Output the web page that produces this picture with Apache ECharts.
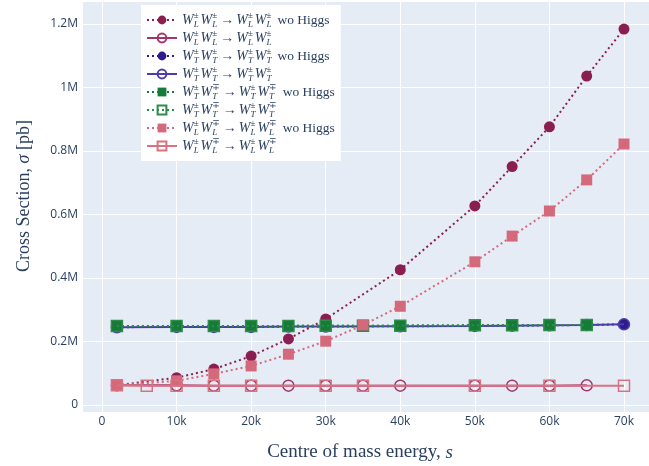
<!DOCTYPE html>
<html>
<head>
<meta charset="utf-8">
<script src="https://cdn.jsdelivr.net/npm/echarts@6/dist/echarts.min.js"></script>
<style>html,body{margin:0;padding:0;background:#fff}#c{width:649px;height:466px}</style>
</head>
<body>
<div id="c"></div>
<script>
// ---- data ----
const xTicks = [0, 10000, 20000, 30000, 40000, 50000, 60000, 70000];
const yTicks = [0, 200000, 400000, 600000, 800000, 1000000, 1200000];

const seriesNames = [
  'WL± WL± → WL± WL± wo Higgs',
  'WL± WL± → WL± WL±',
  'WT± WT± → WT± WT± wo Higgs',
  'WT± WT± → WT± WT±',
  'WT± WT∓ → WT± WT∓ wo Higgs',
  'WT± WT∓ → WT± WT∓',
  'WL± WL∓ → WL± WL∓ wo Higgs',
  'WL± WL∓ → WL± WL∓'
];
const polSub = ['L', 'L', 'T', 'T', 'T', 'T', 'L', 'L'];
const secondSign = ['±', '±', '±', '±', '∓', '∓', '∓', '∓'];
const woHiggs = [true, false, true, false, true, false, true, false];

const x_LL_wo = [2000, 10000, 15000, 20000, 25000, 30000, 40000, 50000, 55000, 60000, 65000, 70000];
const y_LL_wo = [62000, 86000, 113000, 154000, 208000, 271000, 426000, 627000, 751000, 876000, 1036000, 1184000];

const x_LL = [2000, 10000, 15000, 20000, 25000, 30000, 35000, 40000, 50000, 55000, 60000, 65000];
const y_LL = [62000, 62000, 61000, 61000, 61000, 61000, 61000, 61000, 61000, 61000, 61000, 62000];

const x_TT_wo = [2000, 10000, 15000, 20000, 25000, 30000, 40000, 50000, 55000, 60000, 65000, 70000];
const y_TT_wo = [245000, 246000, 246000, 246000, 247000, 247000, 248000, 249000, 250000, 251000, 252000, 254000];

const x_TT = [2000, 10000, 15000, 20000, 25000, 30000, 40000, 50000, 55000, 60000, 65000, 70000];
const y_TT = [245000, 246000, 246000, 246000, 247000, 247000, 248000, 249000, 250000, 251000, 252000, 254000];

const x_TTm_wo = [2000, 10000, 15000, 20000, 25000, 30000, 35000, 40000, 50000, 55000, 60000, 65000];
const y_TTm_wo = [249000, 249000, 249000, 249000, 249000, 250000, 250000, 250000, 251000, 251000, 252000, 252000];

const x_TTm = [2000, 10000, 15000, 20000, 25000, 30000, 35000, 40000, 50000, 55000, 60000, 65000];
const y_TTm = [249000, 249000, 249000, 249000, 249000, 250000, 250000, 250000, 251000, 251000, 252000, 252000];

const x_LLm_wo = [2000, 10000, 15000, 20000, 25000, 30000, 35000, 40000, 50000, 55000, 60000, 65000, 70000];
const y_LLm_wo = [62000, 76000, 98000, 123000, 160000, 201000, 252000, 311000, 451000, 532000, 611000, 709000, 822000];

const x_LLm = [2000, 6000, 10000, 15000, 20000, 30000, 35000, 50000, 60000, 70000];
const y_LLm = [62000, 61000, 61000, 61000, 61000, 61000, 61000, 61000, 61000, 61000];

// ---- styles ----
const seriesX = [x_LL_wo, x_LL, x_TT_wo, x_TT, x_TTm_wo, x_TTm, x_LLm_wo, x_LLm];
const seriesY = [y_LL_wo, y_LL, y_TT_wo, y_TT, y_TTm_wo, y_TTm, y_LLm_wo, y_LLm];
const colors = ['#8b1e51', '#a2346a', '#2f1c8c', '#4d3cab', '#167a38', '#2d8c48', '#d4697b', '#d9727f'];
const symbols = ['circle', 'circle', 'circle', 'circle', 'rect', 'rect', 'rect', 'rect'];
const filled = [true, false, true, false, true, false, true, false];
const dotted = [true, false, true, false, true, true, true, false];

const txtColor = '#2a3f5f';
const serif = "'Liberation Serif', 'DejaVu Serif', serif";

function richLabel(i) {
  const s = polSub[i];
  const particle = (sign) => '{w|W}{sub|' + s + '}{sup|' + sign + '}';
  let str = particle('±') + particle(secondSign[i]) + '{ar|→}' + particle('±') + particle(secondSign[i]);
  if (woHiggs[i]) str += '{t|wo Higgs}';
  return str;
}
const nameToIdx = {};
seriesNames.forEach((n, i) => nameToIdx[n] = i);

const series = seriesNames.map((name, i) => ({
  name: name,
  type: 'line',
  data: seriesX[i].map((x, k) => [x, seriesY[i][k]]),
  symbol: symbols[i],
  symbolSize: 11,
  showSymbol: true,
  lineStyle: { color: colors[i], width: 2, type: dotted[i] ? [2, 3] : 'solid' },
  itemStyle: filled[i]
    ? { color: colors[i], borderColor: colors[i], borderWidth: 0 }
    : { color: 'rgba(0,0,0,0)', borderColor: colors[i], borderWidth: 1.5 },
  emphasis: { disabled: true },
  animation: false,
  z: 2 + i
}));

const chart = echarts.init(document.getElementById('c'), null, { renderer: 'canvas' });
chart.setOption({
  animation: false,
  backgroundColor: '#ffffff',
  grid: {
    left: 83, right: 0, top: 2, bottom: 54,
    outerBoundsMode: 'none',
    containLabel: false,
    show: true, backgroundColor: '#E5ECF6', borderWidth: 0
  },
  xAxis: {
    type: 'value',
    min: -2548, max: 73353,
    axisLine: { show: false },
    axisTick: { show: false, customValues: xTicks },
    splitLine: { show: true, lineStyle: { color: '#ffffff', width: 1 } },
    axisLabel: {
      customValues: xTicks,
      color: txtColor, fontFamily: "'Open Sans', sans-serif", fontSize: 12, margin: 4,
      formatter: v => v === 0 ? '0' : (v / 1000) + 'k'
    },
    name: '{t|Centre of mass energy, }{i|s}',
    nameLocation: 'middle',
    nameGap: 31,
    nameTextStyle: {
      padding: [0, 12, 0, 0],
      rich: {
        t: { fontFamily: serif, fontSize: 19, color: txtColor },
        i: { fontFamily: serif, fontSize: 19, fontStyle: 'italic', color: txtColor }
      }
    }
  },
  yAxis: {
    type: 'value',
    min: -22047, max: 1269291,
    axisLine: { show: false },
    axisTick: { show: false, customValues: yTicks },
    splitLine: { show: true, lineStyle: { color: '#ffffff', width: 1 } },
    axisLabel: {
      customValues: yTicks,
      color: txtColor, fontFamily: "'Open Sans', sans-serif", fontSize: 12, margin: 5,
      formatter: v => v === 0 ? '0' : (v / 1e6) + 'M'
    },
    name: '{t|Cross Section, }{i|σ}{t| [pb]}',
    nameLocation: 'middle',
    nameGap: 50,
    nameTextStyle: {
      padding: [0, 0, 0, 22],
      rich: {
        t: { fontFamily: serif, fontSize: 18, color: txtColor },
        i: { fontFamily: serif, fontSize: 18, fontStyle: 'italic', color: txtColor }
      }
    }
  },
  legend: {
    show: true,
    orient: 'vertical',
    left: 141, top: 5,
    backgroundColor: '#ffffff',
    padding: [6, 6, 6, 5],
    itemWidth: 30, itemHeight: 11,
    itemGap: 0,
    data: seriesNames,
    selectedMode: false,
    formatter: name => richLabel(nameToIdx[name]),
    textStyle: {
      color: txtColor,
      rich: {
        w: { fontFamily: serif, fontStyle: 'italic', fontSize: 14, color: txtColor, lineHeight: 18 },
        sub: { fontFamily: serif, fontStyle: 'italic', fontSize: 9, color: txtColor, verticalAlign: 'bottom', lineHeight: 12 },
        sup: { fontFamily: serif, fontSize: 9, color: txtColor, verticalAlign: 'top', lineHeight: 12, padding: [0, 2, 0, -5] },
        ar: { fontFamily: serif, fontSize: 14, color: txtColor, padding: [0, 2, 0, 1] },
        t: { fontFamily: serif, fontSize: 13.5, color: txtColor, padding: [0, 0, 0, 4] }
      }
    }
  },
  series: series
});
</script>
</body>
</html>
